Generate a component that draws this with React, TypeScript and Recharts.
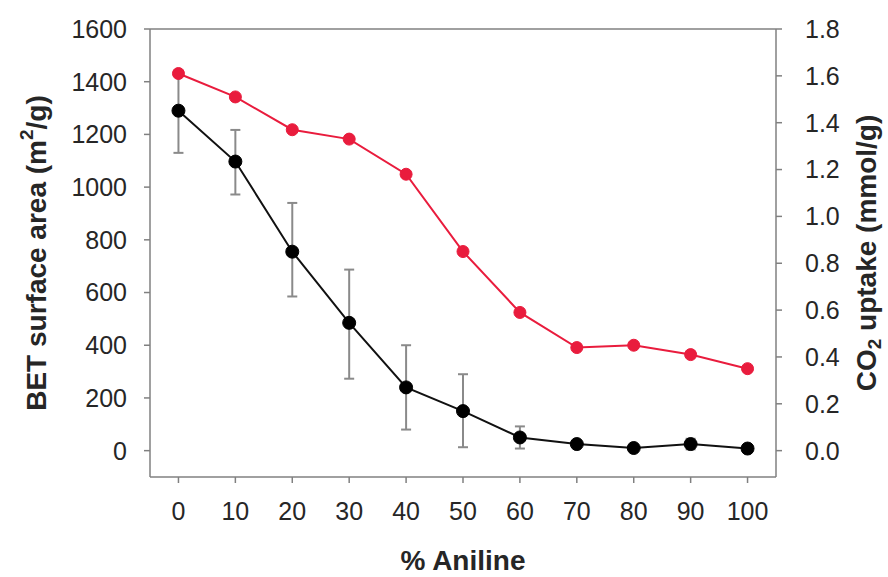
import React from 'react';
import { ComposedChart, Line, XAxis, YAxis, ErrorBar, ReferenceLine, Label } from 'recharts';

const aniline = [0, 10, 20, 30, 40, 50, 60, 70, 80, 90, 100];
const betArea = [1290, 1097, 755, 485, 240, 150, 50, 25, 10, 25, 8];
const betErr = [
  [160, 150], [125, 120], [170, 185], [212, 202], [160, 160], [137, 140],
  [42, 42], [10, 10], [8, 8], [20, 20], [5, 5],
];
const co2Uptake = [1.61, 1.51, 1.37, 1.33, 1.18, 0.85, 0.59, 0.44, 0.45, 0.41, 0.35];
const leftTicks = [0, 200, 400, 600, 800, 1000, 1200, 1400, 1600];
const rightTicks = [0, 0.2, 0.4, 0.6, 0.8, 1.0, 1.2, 1.4, 1.6, 1.8];

const data = aniline.map((x, i) => ({ x, bet: betArea[i], err: betErr[i], co2: co2Uptake[i] }));

const FONT = 'Liberation Sans, Arial, sans-serif';
const AXIS = '#808080';
const TEXT = '#262626';
const RED = '#e91c3d';
const LABEL_SIZE = 28;

const tickStyle = { fontSize: 25, fill: TEXT, fontFamily: FONT };

const BottomLabel = (props: any) => {
  const vb = props.viewBox || {};
  const cx = vb.x + vb.width / 2;
  return (
    <text x={cx} y={560} textAnchor="middle" dominantBaseline="central"
      fontSize={LABEL_SIZE} fontWeight="bold" fill={TEXT} fontFamily={FONT}>
      % Aniline
    </text>
  );
};

const LeftLabel = (props: any) => {
  const vb = props.viewBox || {};
  const cy = vb.y + vb.height / 2;
  const cx = 36;
  return (
    <text x={cx} y={cy} transform={`rotate(-90 ${cx} ${cy})`} textAnchor="middle" dominantBaseline="central"
      fontSize={LABEL_SIZE} fontWeight="bold" fill={TEXT} fontFamily={FONT}>
      BET surface area (m<tspan dy={-10} fontSize={19}>2</tspan><tspan dy={10}>/g)</tspan>
    </text>
  );
};

const RightLabel = (props: any) => {
  const vb = props.viewBox || {};
  const cy = vb.y + vb.height / 2;
  const cx = 866;
  return (
    <text x={cx} y={cy} transform={`rotate(-90 ${cx} ${cy})`} textAnchor="middle" dominantBaseline="central"
      fontSize={LABEL_SIZE} fontWeight="bold" fill={TEXT} fontFamily={FONT}>
      CO<tspan dy={8} fontSize={19}>2</tspan><tspan dy={-8}> uptake (mmol/g)</tspan>
    </text>
  );
};

export default function App() {
  return (
    <div style={{ position: 'absolute', left: 0, top: 0, background: '#fff' }}>
      <ComposedChart width={888} height={577} data={data} margin={{ top: 29, right: 0, bottom: 0, left: 0 }}>
        <XAxis
          dataKey="x"
          type="number"
          domain={[-5, 105]}
          ticks={aniline}
          allowDataOverflow
          height={100}
          stroke={AXIS}
          strokeWidth={1.5}
          tickSize={6}
          tickMargin={19}
          tick={tickStyle}
        >
          <Label content={<BottomLabel />} />
        </XAxis>
        <YAxis
          yAxisId="left"
          orientation="left"
          domain={[-100, 1600]}
          ticks={leftTicks}
          allowDataOverflow
          width={150}
          stroke={AXIS}
          strokeWidth={1.5}
          tickSize={6}
          tickMargin={17}
          tick={tickStyle}
        >
          <Label content={<LeftLabel />} />
        </YAxis>
        <YAxis
          yAxisId="right"
          orientation="right"
          domain={[-0.1125, 1.8]}
          ticks={rightTicks}
          allowDataOverflow
          width={112}
          stroke={AXIS}
          strokeWidth={1.5}
          tickSize={6}
          tickMargin={23}
          tick={tickStyle}
          tickFormatter={(v: number) => v.toFixed(1)}
        >
          <Label content={<RightLabel />} />
        </YAxis>
        <ReferenceLine yAxisId="left" y={1600} stroke={AXIS} strokeWidth={1.5} />
        <Line
          yAxisId="left"
          dataKey="bet"
          stroke="#111"
          strokeWidth={2}
          dot={{ r: 6.5, fill: '#000', stroke: '#000', strokeWidth: 1 }}
          isAnimationActive={false}
        >
          <ErrorBar dataKey="err" direction="y" width={5} stroke="#8a8a8a" strokeWidth={2} />
        </Line>
        <Line
          yAxisId="right"
          dataKey="co2"
          stroke={RED}
          strokeWidth={2}
          dot={{ r: 6, fill: RED, stroke: RED, strokeWidth: 1 }}
          isAnimationActive={false}
        />
      </ComposedChart>
    </div>
  );
}
